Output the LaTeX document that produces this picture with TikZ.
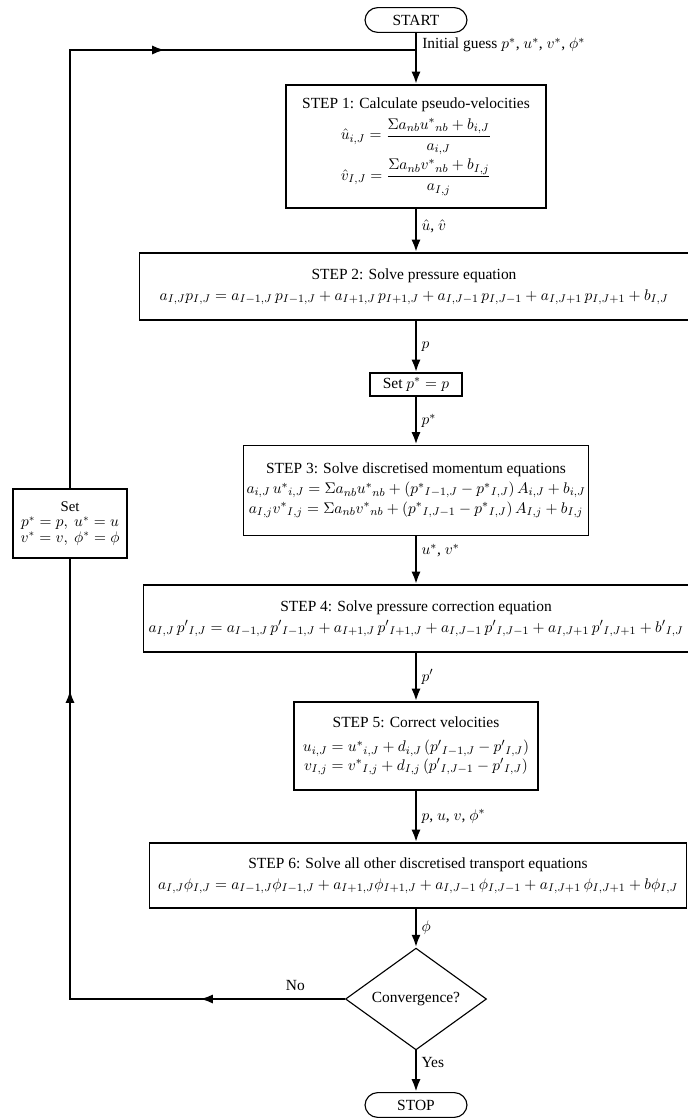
\documentclass[tikz,border=0pt]{standalone}
\usepackage{fontspec}
\setmainfont{Liberation Serif}
\usetikzlibrary{shapes.geometric, arrows.meta}

\tikzset{
  stepbox/.style={draw, line width=0.8pt, align=center, inner sep=2pt},
  termbox/.style={draw, line width=0.8pt, rounded corners=0.32cm, minimum width=2.55cm, minimum height=0.62cm},
  flow/.style={line width=1.9pt, -{Latex[length=3.2mm, width=2.3mm]}},
  loopline/.style={line width=1.9pt},
  flowlabel/.style={right, inner sep=3pt},
}

\begin{document}
\begin{tikzpicture}[x=0.025cm, y=-0.025cm, font=\fontsize{11}{13}\selectfont]
        \useasboundingbox (0,0) rectangle (688,1120);

        \node[termbox] (start) at (416,20) {START};
        \coordinate (join) at (416,50);

        \node[stepbox, minimum width=6.5cm, minimum height=3.075cm] (step1) at (416,146.5)
            {STEP 1: Calculate pseudo-velocities\\[4pt]
             $\displaystyle \hat u_{i,J}=\frac{\Sigma a_{nb}u^*{}_{nb}+b_{i,J}}{a_{i,J}}$\\[2pt]
             $\displaystyle \hat v_{I,J}=\frac{\Sigma a_{nb}v^*{}_{nb}+b_{I,j}}{a_{I,j}}$};

        \node[stepbox, minimum width=13.7cm, minimum height=1.675cm] (step2) at (414,286.5)
            {STEP 2: Solve pressure equation\\[2pt]
             $a_{I,J}p_{I,J}=a_{I-1,J}\,p_{I-1,J}+a_{I+1,J}\,p_{I+1,J}+a_{I,J-1}\,p_{I,J-1}+a_{I,J+1}\,p_{I,J+1}+b_{I,J}$};

        \node[stepbox, minimum width=2.3cm, minimum height=0.575cm] (setp) at (416,384.5) {Set $p^*=p$};

        \node[stepbox, minimum width=8.55cm, minimum height=2.25cm] (step3) at (416,490.5)
            {STEP 3: Solve discretised momentum equations\\[1pt]
             $a_{i,J}\,u^*{}_{i,J}=\Sigma a_{nb}u^*{}_{nb}+(p^*{}_{I-1,J}-p^*{}_{I,J})\,A_{i,J}+b_{i,J}$\\[1pt]
             $a_{I,j}v^*{}_{I,j}=\Sigma a_{nb}v^*{}_{nb}+(p^*{}_{I,J-1}-p^*{}_{I,J})\,A_{I,j}+b_{I,j}$};

        \node[stepbox, minimum width=13.6cm, minimum height=1.675cm] (step4) at (416,618.5)
            {STEP 4: Solve pressure correction equation\\[2pt]
             $a_{I,J}\,p'{}_{I,J}=a_{I-1,J}\,p'{}_{I-1,J}+a_{I+1,J}\,p'{}_{I+1,J}+a_{I,J-1}\,p'{}_{I,J-1}+a_{I,J+1}\,p'{}_{I,J+1}+b'{}_{I,J}$};

        \node[stepbox, minimum width=6.1cm, minimum height=2.2cm] (step5) at (416,746)
            {STEP 5: Correct velocities\\[4pt]
             $u_{i,J}=u^*{}_{i,J}+d_{i,J}\,(p'{}_{I-1,J}-p'{}_{I,J})$\\
             $v_{I,j}=v^*{}_{I,j}+d_{I,j}\,(p'{}_{I,J-1}-p'{}_{I,J})$};

        \node[stepbox, minimum width=13.4cm, minimum height=1.625cm] (step6) at (418,875.5)
            {STEP 6: Solve all other discretised transport equations\\[2pt]
             $a_{I,J}\phi_{I,J}=a_{I-1,J}\phi_{I-1,J}+a_{I+1,J}\phi_{I+1,J}+a_{I,J-1}\,\phi_{I,J-1}+a_{I,J+1}\,\phi_{I,J+1}+b\phi_{I,J}$};

        \node[draw, diamond, line width=0.8pt, inner sep=0pt, minimum width=3.525cm, minimum height=1.95cm] (conv) at (416,999) {Convergence?};

        \node[termbox] (stop) at (416,1105) {STOP};

        \node[stepbox, minimum width=2.85cm, minimum height=1.725cm, font=\fontsize{10.5}{11}\selectfont] (reset) at (70,523.5)
            {Set\\ $p^*=p,\ u^*=u$\\ $v^*=v,\ \phi^*=\phi$};

        % main line
        \draw[flow] (start) -- (step1);
        \node[right, inner sep=0pt] (guess) at (422,45) {Initial guess $p^*$, $u^*$, $v^*$, $\phi^*$};
        \draw[flow] (step1) -- node[flowlabel, pos=0.4] {$\hat{u}$, $\hat{v}$} (step1|-step2.north);
        \draw[flow] (step1|-step2.south) -- node[flowlabel] {$p$} (setp);
        \draw[flow] (setp) -- node[flowlabel] {$p^*$} (step3);
        \draw[flow] (step3) -- node[flowlabel, pos=0.3] {$u^*$, $v^*$} (step3|-step4.north);
        \draw[flow] (step3|-step4.south) -- node[flowlabel] {$p'$} (step5);
        \draw[flow] (step5) -- node[flowlabel] {$p$, $u$, $v$, $\phi^*$} (step5|-step6.north);
        \draw[flow] (step5|-step6.south) -- node[flowlabel] {$\phi$} (conv);
        \draw[flow] (conv) -- node[flowlabel, pos=0.3] {Yes} (stop);

        % loop back
        \coordinate (cornerB) at (reset|-conv.west);
        \coordinate (cornerT) at (reset|-join);
        \coordinate (noarrow) at (200,999);
        \coordinate (uparrow) at (70,690);
        \coordinate (rightarrow) at (165,50);
        \draw[loopline] (conv.west) -- node[above=2pt, pos=0.18] {No} (cornerB) -- (reset.south);
        \draw[loopline] (reset.north) -- (cornerT) -- (join);
        \draw[flow] (conv.west) -- (noarrow);
        \draw[flow] (cornerB) -- (uparrow);
        \draw[flow] (cornerT) -- (rightarrow);
\end{tikzpicture}
\end{document}
